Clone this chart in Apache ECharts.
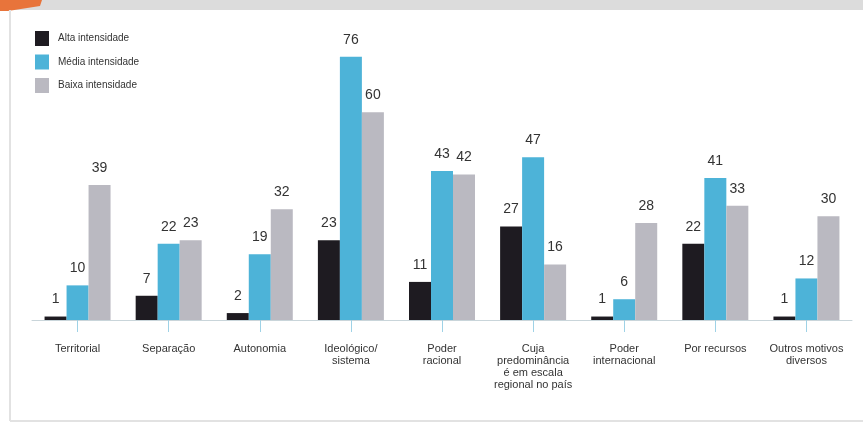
<!DOCTYPE html>
<html>
<head>
<meta charset="utf-8">
<script src="https://cdn.jsdelivr.net/npm/echarts@6/dist/echarts.min.js"></script>
<style>
html,body{margin:0;padding:0;background:#fff;}
#c{width:863px;height:423px;}
</style>
</head>
<body>
<div id="c"></div>
<script>
var categories = ['Territorial','Separação','Autonomia','Ideológico/\nsistema','Poder\nracional','Cuja\npredominância\né em escala\nregional no país','Poder\ninternacional','Por recursos','Outros motivos\ndiversos'];
var seriesNames = ['Alta intensidade','Média intensidade','Baixa intensidade'];
var alta = [1, 7, 2, 23, 11, 27, 1, 22, 1];
var media = [10, 22, 19, 76, 43, 47, 6, 41, 12];
var baixa = [39, 23, 32, 60, 42, 16, 28, 33, 30];
var colors = ['#1e1b21', '#4db3d8', '#bab9c1'];

var chart = echarts.init(document.getElementById('c'), null, {renderer:'canvas'});
var font = "'Liberation Sans Narrow', 'Liberation Sans', Arial, sans-serif";
function mk(name, data, i){
  return {
    name: name, type: 'bar', data: data, barWidth: 22, barGap: '0%',
    itemStyle: {color: colors[i]},
    label: {show: true, position: 'top', distance: 10, color: '#333', fontSize: 14, fontFamily: font}
  };
}
chart.setOption({
  animation: false,
  backgroundColor: '#fff',
  graphic: [
    {type:'rect', shape:{x:0,y:0,width:863,height:10}, style:{fill:'#dcdcdc'}},
    {type:'polygon', shape:{points:[[0,0],[42,0],[40,6],[8,11],[0,11]]}, style:{fill:'#e8743b'}},
    {type:'line', shape:{x1:10,y1:10,x2:10,y2:421}, style:{stroke:'#e2e2e2', lineWidth:2}},
    {type:'line', shape:{x1:10,y1:421,x2:863,y2:421}, style:{stroke:'#e2e2e2', lineWidth:2}}
  ],
  legend: {
    orient: 'vertical', left: 35, top: 31, padding: 0, itemWidth: 14, itemHeight: 15, itemGap: 8.5,
    icon: 'rect',
    textStyle: {fontSize: 10, color: '#333', fontFamily: font, padding: [0,0,0,4]},
    data: seriesNames
  },
  grid: {left: 32, right: 11, top: 43, bottom: 103},
  xAxis: {
    type: 'category', data: categories,
    axisLine: {lineStyle: {color: '#c9d5da', width: 1}},
    axisTick: {show: true, alignWithLabel: true, length: 12, lineStyle: {color: '#9fd2e6'}},
    axisLabel: {color: '#333', fontSize: 11, fontFamily: font, lineHeight: 12, margin: 23, interval: 0}
  },
  yAxis: {
    type: 'value', min: 0, max: 80, show: false, splitLine: {show: false}
  },
  series: [mk(seriesNames[0], alta, 0), mk(seriesNames[1], media, 1), mk(seriesNames[2], baixa, 2)]
});
</script>
</body>
</html>
